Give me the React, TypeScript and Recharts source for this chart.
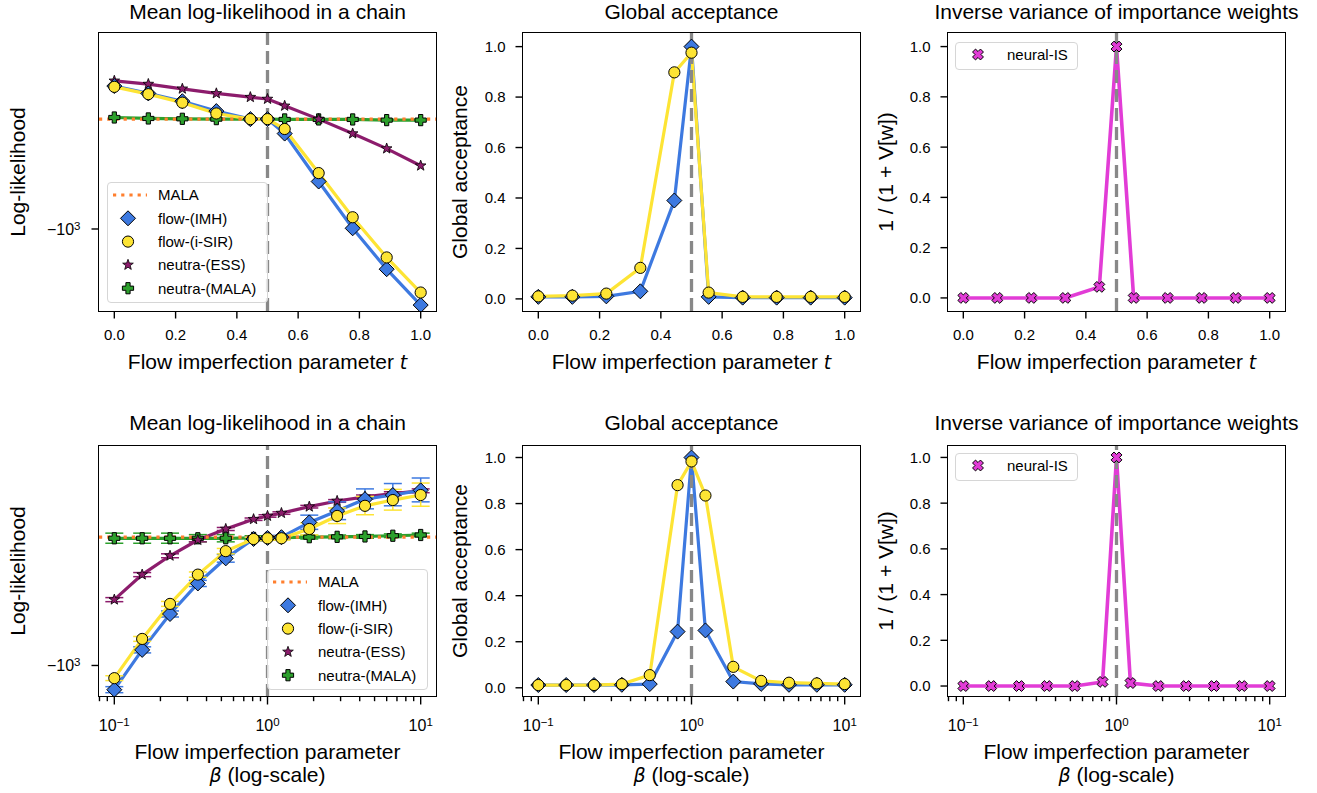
import React from 'react';
import { LineChart, Line, XAxis, YAxis, ReferenceLine, ErrorBar } from 'recharts';

// x positions
const tVals = [0, 0.111, 0.222, 0.333, 0.444, 0.5, 0.556, 0.667, 0.778, 0.889, 1];
const betaVals = [0.1, 0.152, 0.231, 0.351, 0.534, 0.811, 1, 1.233, 1.874, 2.848, 4.329, 6.579, 10];

// top row, mean log-likelihood vs t
const llImhT = [-441, -460, -481, -509, -533, -533, -579, -762, -996, -1259, -1546];
const llIsirT = [-443, -462, -485, -516, -533, -533, -564, -726, -935, -1177, -1439];
const llEssT = [-428, -436, -448, -460, -470, -475, -494, -533, -579, -631, -696];
const llNeutraMalaT = [-528, -531, -532, -533, -533, -533, -534, -534, -534, -536, -536];
const llMalaT = -533;

// bottom row, mean log-likelihood vs beta (+ std)
const llImhB = [-1150, -914, -743, -623, -539, -482, -479, -477, -438, -410, -383, -374, -364];
const llIsirB = [-1076, -858, -701, -592, -517, -482, -480, -480, -455, -422, -398, -385, -374];
const llEssB = [-684, -592, -531, -485, -455, -430, -422, -415, -400, -387, -378, -371, -365];
const llNeutraMalaB = [-480, -480, -480, -480, -480, -479, -479, -478, -477, -476, -475, -473, -471];
const llMalaB = -477;
const errImhB = [20, 16, 13, 11, 12, 6, 3, 5, 18, 21, 22, 24, 25];
const errIsirB = [15, 12, 10, 9, 8, 5, 3, 5, 16, 19, 21, 23, 25];
const errEssB = [8, 7, 6, 5, 4, 3, 3, 3, 3, 3, 4, 4, 4];
const errNeutraMalaB = [14, 14, 14, 10, 10, 6, 5, 5, 5, 5, 5, 5, 5];

// global acceptance
const accImhT = [0.008, 0.008, 0.01, 0.03, 0.39, 1.0, 0.008, 0.005, 0.005, 0.005, 0.005];
const accIsirT = [0.01, 0.013, 0.021, 0.123, 0.898, 0.976, 0.025, 0.008, 0.008, 0.008, 0.008];
const accImhB = [0.012, 0.012, 0.012, 0.013, 0.016, 0.244, 1.0, 0.249, 0.027, 0.017, 0.013, 0.013, 0.013];
const accIsirB = [0.012, 0.012, 0.012, 0.016, 0.055, 0.88, 0.983, 0.835, 0.091, 0.03, 0.022, 0.019, 0.016];

// 1 / (1 + V[w])
const invVarT = [0, 0, 0, 0, 0.044, 1.0, 0, 0, 0, 0, 0];
const invVarB = [0, 0, 0, 0, 0, 0.018, 1.0, 0.013, 0, 0, 0, 0, 0];

const linTicks = [0, 0.2, 0.4, 0.6, 0.8, 1];
const logMajor = [0.1, 1, 10];
const logMinor = [0.08, 0.09, 0.2, 0.3, 0.4, 0.5, 0.6, 0.7, 0.8, 0.9, 2, 3, 4, 5, 6, 7, 8, 9];

const FONT = '"Liberation Sans", Arial, Helvetica, sans-serif';
const BLUE = '#3d79e0';
const YELLOW = '#fde434';
const PURPLE = '#8c1c6c';
const GREEN = '#2ca02c';
const ORANGE = '#ff7f2e';
const MAGENTA = '#e23cd6';
const GREY = '#888888';

// symlog-ish: plot -log10(|v|) so the axis reads like matplotlib's negative log
const toLog = (v: number) => -Math.log10(-v);
const logErr = (v: number, e: number) => {
  const s = toLog(v);
  return [s - toLog(v - e), toLog(v + e) - s];
};

type Kind = 'diamond' | 'circle' | 'star' | 'plus' | 'x';

function Marker({ kind, cx, cy }: { kind: Kind; cx: number; cy: number }) {
  if (kind === 'diamond') {
    const s = 7.5;
    return <polygon points={`${cx},${cy - s} ${cx + s},${cy} ${cx},${cy + s} ${cx - s},${cy}`} fill={BLUE} stroke="#000" strokeWidth={1} />;
  }
  if (kind === 'circle') return <circle cx={cx} cy={cy} r={5.6} fill={YELLOW} stroke="#000" strokeWidth={1} />;
  if (kind === 'star') {
    const pts = [];
    for (let i = 0; i < 10; i++) {
      const a = (-90 + i * 36) * Math.PI / 180;
      const r = i % 2 ? 2.3 : 5.6;
      pts.push(`${cx + r * Math.cos(a)},${cy + r * Math.sin(a)}`);
    }
    return <polygon points={pts.join(' ')} fill={PURPLE} stroke="#000" strokeWidth={0.8} />;
  }
  const a = 5.6, b = 2.1;
  const base = [[-b, -a], [b, -a], [b, -b], [a, -b], [a, b], [b, b], [b, a], [-b, a], [-b, b], [-a, b], [-a, -b], [-b, -b]];
  const rot = kind === 'x' ? Math.PI / 4 : 0;
  const pts = base.map(([px, py]) => {
    const rx = px * Math.cos(rot) - py * Math.sin(rot);
    const ry = px * Math.sin(rot) + py * Math.cos(rot);
    return `${cx + rx},${cy + ry}`;
  });
  return <polygon points={pts.join(' ')} fill={kind === 'x' ? MAGENTA : GREEN} stroke="#000" strokeWidth={1} />;
}

const dotOf = (kind: Kind) => (props: any) => {
  const { cx, cy, index } = props;
  if (cx == null || cy == null) return <g key={index} />;
  return <Marker key={index} kind={kind} cx={cx} cy={cy} />;
};

const LinXTick = (props: any) => (
  <text x={props.x} y={props.y} dy="0.71em" textAnchor="middle" fontSize={15} fontFamily={FONT} fill="#000">
    {props.payload.value.toFixed(1)}
  </text>
);

// log x axis: draws its own major / minor tick marks
const LogXTick = (props: any) => {
  const { x, y, payload } = props;
  const v = payload.value;
  const major = logMajor.includes(v);
  const y0 = y - 18.5;
  return (
    <g>
      <line x1={x} x2={x} y1={y0} y2={y0 + (major ? 7.5 : 4.2)} stroke="#000" strokeWidth={1.4} />
      {major && (
        <text x={x} y={y + 4} dy="0.71em" textAnchor="middle" fontSize={16} fontFamily={FONT} fill="#000">
          <tspan>10</tspan>
          <tspan dy="-0.45em" fontSize={11.5}>{v === 0.1 ? '\u22121' : v === 1 ? '0' : '1'}</tspan>
        </text>
      )}
    </g>
  );
};

const LinYTick = (props: any) => (
  <text x={props.x} y={props.y} dy="0.36em" textAnchor="end" fontSize={15} fontFamily={FONT} fill="#000">
    {props.payload.value.toFixed(1)}
  </text>
);

const LogYTick = (props: any) => (
  <text x={props.x - 1} y={props.y} dy="0.36em" textAnchor="end" fontSize={16} fontFamily={FONT} fill="#000">
    <tspan>{'\u221210'}</tspan>
    <tspan dy="-0.45em" fontSize={11.5}>3</tspan>
  </text>
);

type Series = { key: string; kind: Kind; color: string; width?: number; err?: string };
type LegendItem = { label: string; kind: Kind | 'dotted' };

function LegendBox({ left, top, width, height, items, mx, tx }: {
  left: number; top: number; width: number; height: number; items: LegendItem[]; mx: number; tx: number;
}) {
  return (
    <div style={{
      position: 'absolute', left, top, width, height, boxSizing: 'border-box',
      border: '1.5px solid #d6d6d6', borderRadius: 4, background: 'rgba(255,255,255,0.8)',
    }}>
      <svg width={width} height={height} style={{ position: 'absolute', left: -1.5, top: -1.5 }}>
        {items.map((it, i) => {
          const cy = (items.length === 1 ? 12.5 : 13) + i * 23.3;
          return (
            <g key={it.label}>
              {it.kind === 'dotted'
                ? <line x1={mx - 15} x2={mx + 19} y1={cy} y2={cy} stroke={ORANGE} strokeWidth={3.2} strokeDasharray="3.2 5" />
                : <Marker kind={it.kind} cx={mx} cy={cy} />}
              <text x={tx} y={cy} dy="0.36em" fontSize={15} fontFamily={FONT} fill="#000">{it.label}</text>
            </g>
          );
        })}
      </svg>
    </div>
  );
}

const PL = 70, PT = 10, PR = 10, PB = 60;

function Panel(p: {
  l: number; t: number; w: number; h: number;
  data: any[]; xLog: boolean; xDomain: number[]; yDomain: number[]; yLog: boolean;
  series: Series[]; refX: number; refY?: number;
  title: string; titleY: number; yLabel: string; yLabelX: number; row2: boolean;
}) {
  const xTicks = p.xLog ? [...logMajor, ...logMinor].sort((a, b) => a - b) : linTicks;
  return (
    <>
      <div style={{ position: 'absolute', left: p.l - PL, top: p.t - PT }}>
        <LineChart width={p.w + PL + PR} height={p.h + PT + PB} data={p.data}
          margin={{ top: PT, right: PR, bottom: 0, left: 0 }}>
          <XAxis dataKey="x" type="number" scale={p.xLog ? 'log' : 'linear'} domain={p.xDomain}
            allowDataOverflow ticks={xTicks} interval={0} axisLine={false}
            tickLine={p.xLog ? false : { stroke: '#000', strokeWidth: 1.4 }}
            tickSize={7.5} tickMargin={11} height={PB} tick={p.xLog ? LogXTick : LinXTick} />
          <YAxis type="number" domain={p.yDomain} allowDataOverflow width={PL}
            ticks={p.yLog ? [-3] : linTicks} interval={0} axisLine={false}
            tickLine={{ stroke: '#000', strokeWidth: 1.4 }} tickSize={7.5} tickMargin={10}
            tick={p.yLog ? LogYTick : LinYTick} />
          {p.series.map((s) => (
            <Line key={s.key} dataKey={s.key} type="linear" stroke={s.color} strokeWidth={s.width ?? 3.2}
              dot={dotOf(s.kind)} activeDot={false} isAnimationActive={false}>
              {s.err && <ErrorBar dataKey={s.err} width={9} strokeWidth={1.5} stroke={s.color} direction="y" />}
            </Line>
          ))}
          {p.refY !== undefined && (
            <ReferenceLine y={p.refY} stroke={ORANGE} strokeWidth={3.2} strokeDasharray="3.2 5" ifOverflow="visible" />
          )}
          <ReferenceLine x={p.refX} stroke={GREY} strokeWidth={3.3} strokeDasharray="13 6" />
        </LineChart>
      </div>
      {/* axes frame (all four spines) */}
      <div style={{
        position: 'absolute', left: p.l - 0.85, top: p.t - 0.85, width: p.w + 1.7, height: p.h + 1.7,
        boxSizing: 'border-box', border: '1.7px solid #000', pointerEvents: 'none',
      }} />
      <div style={{ position: 'absolute', left: p.l + p.w / 2, top: p.titleY, transform: 'translate(-50%, -50%)', fontSize: 21, fontFamily: FONT, whiteSpace: 'nowrap' }}>
        {p.title}
      </div>
      <div style={{ position: 'absolute', left: p.yLabelX, top: p.t + p.h / 2, transform: 'translate(-50%, -50%) rotate(-90deg)', fontSize: 21, fontFamily: FONT, whiteSpace: 'nowrap' }}>
        {p.yLabel}
      </div>
      {p.row2 ? (
        <div style={{ position: 'absolute', left: p.l + p.w / 2, top: 763, transform: 'translate(-50%, -50%)', fontSize: 21, fontFamily: FONT, whiteSpace: 'nowrap', textAlign: 'center', lineHeight: '23px' }}>
          Flow imperfection parameter<br /><i style={{ fontFamily: '"DejaVu Sans", sans-serif', fontSize: 19 }}>β</i> (log-scale)
        </div>
      ) : (
        <div style={{ position: 'absolute', left: p.l + p.w / 2, top: 362, transform: 'translate(-50%, -50%)', fontSize: 21, fontFamily: FONT, whiteSpace: 'nowrap' }}>
          Flow imperfection parameter <i style={{ fontFamily: '"DejaVu Sans", sans-serif', fontSize: 19 }}>t</i>
        </div>
      )}
    </>
  );
}

const llDataT = tVals.map((x, i) => ({
  x, imh: toLog(llImhT[i]), isir: toLog(llIsirT[i]), ess: toLog(llEssT[i]), nmala: toLog(llNeutraMalaT[i]),
}));
const llDataB = betaVals.map((x, i) => ({
  x,
  imh: toLog(llImhB[i]), imhErr: logErr(llImhB[i], errImhB[i]),
  isir: toLog(llIsirB[i]), isirErr: logErr(llIsirB[i], errIsirB[i]),
  ess: toLog(llEssB[i]), essErr: logErr(llEssB[i], errEssB[i]),
  nmala: toLog(llNeutraMalaB[i]), nmalaErr: logErr(llNeutraMalaB[i], errNeutraMalaB[i]),
}));
const accDataT = tVals.map((x, i) => ({ x, imh: accImhT[i], isir: accIsirT[i] }));
const accDataB = betaVals.map((x, i) => ({ x, imh: accImhB[i], isir: accIsirB[i] }));
const isDataT = tVals.map((x, i) => ({ x, nis: invVarT[i] }));
const isDataB = betaVals.map((x, i) => ({ x, nis: invVarB[i] }));

const llSeries: Series[] = [
  { key: 'nmala', kind: 'plus', color: GREEN, err: 'nmalaErr' },
  { key: 'ess', kind: 'star', color: PURPLE, err: 'essErr' },
  { key: 'imh', kind: 'diamond', color: BLUE, err: 'imhErr' },
  { key: 'isir', kind: 'circle', color: YELLOW, err: 'isirErr' },
];
const llSeriesT: Series[] = llSeries.map((s) => ({ ...s, err: undefined }));
const accSeries: Series[] = [
  { key: 'imh', kind: 'diamond', color: BLUE },
  { key: 'isir', kind: 'circle', color: YELLOW },
];
const isSeries: Series[] = [{ key: 'nis', kind: 'x', color: MAGENTA, width: 3.6 }];

const llLegend: LegendItem[] = [
  { label: 'MALA', kind: 'dotted' },
  { label: 'flow-(IMH)', kind: 'diamond' },
  { label: 'flow-(i-SIR)', kind: 'circle' },
  { label: 'neutra-(ESS)', kind: 'star' },
  { label: 'neutra-(MALA)', kind: 'plus' },
];
const isLegend: LegendItem[] = [{ label: 'neural-IS', kind: 'x' }];

const tDomain = [-0.05, 1.05];
const bDomain = [Math.pow(10, -1.1), Math.pow(10, 1.1)];
const W = 337, H1 = 278, H2 = 251, T1 = 33, T2 = 445.5;

export default function App() {
  return (
    <div style={{ position: 'relative', width: 1317, height: 793, background: '#fff', overflow: 'hidden' }}>
      <style>{'body{margin:0}'}</style>

      <Panel l={99} t={T1} w={W} h={H1} data={llDataT} xLog={false} xDomain={tDomain}
        yDomain={[-3.204, -2.5125]} yLog series={llSeriesT} refX={0.5} refY={toLog(llMalaT)}
        title="Mean log-likelihood in a chain" titleY={12} yLabel="Log-likelihood" yLabelX={18} row2={false} />
      <Panel l={523} t={T1} w={W} h={H1} data={accDataT} xLog={false} xDomain={tDomain}
        yDomain={[-0.048, 1.054]} yLog={false} series={accSeries} refX={0.5}
        title="Global acceptance" titleY={12} yLabel="Global acceptance" yLabelX={460} row2={false} />
      <Panel l={948} t={T1} w={W} h={H1} data={isDataT} xLog={false} xDomain={tDomain}
        yDomain={[-0.052, 1.054]} yLog={false} series={isSeries} refX={0.5}
        title="Inverse variance of importance weights" titleY={12} yLabel="1 / (1 + V[w])" yLabelX={886} row2={false} />

      <Panel l={99} t={T2} w={W} h={H2} data={llDataB} xLog xDomain={bDomain}
        yDomain={[-3.079, -2.45]} yLog series={llSeries} refX={1} refY={toLog(llMalaB)}
        title="Mean log-likelihood in a chain" titleY={423} yLabel="Log-likelihood" yLabelX={18} row2 />
      <Panel l={523} t={T2} w={W} h={H2} data={accDataB} xLog xDomain={bDomain}
        yDomain={[-0.04, 1.05]} yLog={false} series={accSeries} refX={1}
        title="Global acceptance" titleY={423} yLabel="Global acceptance" yLabelX={460} row2 />
      <Panel l={948} t={T2} w={W} h={H2} data={isDataB} xLog xDomain={bDomain}
        yDomain={[-0.048, 1.05]} yLog={false} series={isSeries} refX={1}
        title="Inverse variance of importance weights" titleY={423} yLabel="1 / (1 + V[w])" yLabelX={886} row2 />

      <LegendBox left={107} top={182} width={161} height={121} items={llLegend} mx={21} tx={51} />
      <LegendBox left={267} top={569} width={161} height={121} items={llLegend} mx={21} tx={51} />
      <LegendBox left={955} top={42} width={123} height={28} items={isLegend} mx={23} tx={52} />
      <LegendBox left={955} top={453} width={123} height={28} items={isLegend} mx={23} tx={52} />
    </div>
  );
}
